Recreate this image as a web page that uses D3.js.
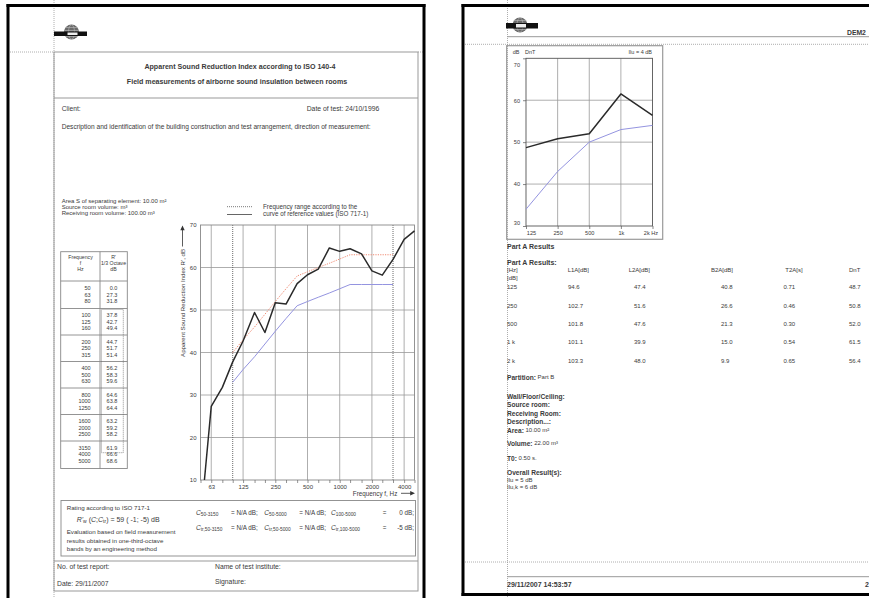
<!DOCTYPE html>
<html><head><meta charset="utf-8">
<script src="https://cdn.jsdelivr.net/npm/d3@7"></script>
<style>
html,body{margin:0;padding:0;background:#fff;}
svg{display:block;}
text{font-family:"Liberation Sans",Arial,sans-serif;fill:#3a3a3a;}
</style>
</head><body>
<svg id="c" width="869" height="598"></svg>
<script>
// ---------- DATA ----------
const thirdOctFreqs = [50,63,80,100,125,160,200,250,315,400,500,630,800,1000,1250,1600,2000,2500,3150,4000,5000];
const rPrime = [0.0,27.3,31.8,37.8,42.7,49.4,44.7,51.7,51.4,56.2,58.3,59.6,64.6,63.8,64.4,63.2,59.2,58.2,61.9,66.6,68.6];
const refFreqs = [100,125,160,200,250,315,400,500,630,800,1000,1250,1600,2000,2500,3150];
const refValues = [33,36,39,42,45,48,51,52,53,54,55,56,56,56,56,56];
const shiftedRef = [40,43,46,49,52,55,58,59,60,61,62,63,63,63,63,63];
const octaveLabelsL = [63,125,250,500,1000,2000,4000];
const yTicksL = [10,20,30,40,50,60,70];
const rangeMarks = [100,3150];

const octFreqs = [125,250,500,1000,2000];
const octLabels = ["125","250","500","1k","2k Hz"];
const dnT = [48.7,50.8,52.0,61.5,56.4];
const octRef = [34,43,50,53,54];
const yTicksR = [30,40,50,60,70];

const resRows = ["125","250","500","1 k","2 k"];
const resHeaders = ["L1A[dB]","L2A[dB]","B2A[dB]","T2A[s]","DnT"];
const L1A = ["94.6","102.7","101.8","101.1","103.3"];
const L2A = ["47.4","51.6","47.6","39.9","48.0"];
const B2A = ["40.8","26.6","21.3","15.0","9.9"];
const T2A = ["0.71","0.46","0.30","0.54","0.65"];
const DnTcol = ["48.7","50.8","52.0","61.5","56.4"];

// ---------- HELPERS ----------
const svg = d3.select("#c");
const FS = 6.5;
function T(g,x,y,s,o={}){
  const t = g.append("text").attr("x",x).attr("y",y)
    .attr("dominant-baseline","central")
    .attr("font-size",o.size||FS).text(s);
  if(o.anchor) t.attr("text-anchor",o.anchor);
  if(o.bold) t.attr("font-weight","bold");
  if(o.italic) t.attr("font-style","italic");
  if(o.fill) t.style("fill",o.fill);
  return t;
}
function L(g,x1,y1,x2,y2,stroke,w,dash){
  const l = g.append("line").attr("x1",x1).attr("y1",y1).attr("x2",x2).attr("y2",y2)
    .attr("stroke",stroke).attr("stroke-width",w||1);
  if(dash) l.attr("stroke-dasharray",dash);
  return l;
}
function logo(g,cx,cy,bx1,bx2,by,bh){
  g.append("circle").attr("cx",cx).attr("cy",cy).attr("r",7.5).attr("fill","#6a6a6a");
  [-4.5,-1.5,1.5,4.5].forEach(d=>L(g,cx-6.5,cy+d,cx+6.5,cy+d,"#bbb",0.6));
  g.append("ellipse").attr("cx",cx).attr("cy",cy).attr("rx",3).attr("ry",7.3).attr("fill","none").attr("stroke","#bbb").attr("stroke-width",0.6);
  g.append("rect").attr("x",bx1).attr("y",by).attr("width",bx2-bx1).attr("height",bh).attr("fill","#111");
  g.append("rect").attr("x",cx-4).attr("y",by+1).attr("width",10).attr("height",bh-2).attr("fill","#eee");
}
function arrowHead(g,x,y,dir){
  const s=2.2;
  const p = dir==="up" ? `M${x},${y} L${x-s},${y+s*2.2} L${x+s},${y+s*2.2}Z`
                       : `M${x},${y} L${x-s*2.2},${y-s} L${x-s*2.2},${y+s}Z`;
  g.append("path").attr("d",p).attr("fill","#333");
}

// ================= LEFT PAGE =================
const P1 = svg.append("g");
L(P1,54,0,54,598,"#999",0.8,"1,1");
L(P1,8,52,54,52,"#999",0.8,"1,1");
L(P1,418,52,424,52,"#999",0.8,"1,1");
L(P1,8,4,8,598,"#000",3);
L(P1,424,4,424,598,"#000",3);
L(P1,6.5,5.5,425.5,5.5,"#000",3);
logo(P1,71.5,32,54,87,31.5,4.5);

P1.append("rect").attr("x",54).attr("y",52).attr("width",364).attr("height",539)
  .attr("fill","none").attr("stroke","#999").attr("stroke-width",1);
L(P1,54,98,418,98,"#999",1);
L(P1,54,561,418,561,"#999",1);

T(P1,240,66.7,"Apparent Sound Reduction Index according to ISO 140-4",{anchor:"middle",bold:true,size:7.1});
T(P1,237,81.7,"Field measurements of airborne sound insulation between rooms",{anchor:"middle",bold:true,size:7.1});
T(P1,61.7,108.3,"Client:",{size:6.7});
T(P1,306.7,108.3,"Date of test: 24/10/1996",{size:6.8});
T(P1,61.7,126,"Description and identification of the building construction and test arrangement, direction of measurement:",{size:6.6});
T(P1,61.7,201,"Area S of separating element: 10.00 m²",{size:6});
T(P1,61.7,207,"Source room volume:  m³",{size:6});
T(P1,61.7,213,"Receiving room volume: 100.00 m³",{size:6});

// legend
L(P1,227,206.7,252,206.7,"#555",0.8,"1,1");
L(P1,227,214.5,252,214.5,"#555",0.9);
T(P1,263,206.5,"Frequency range according to the",{size:6.3});
T(P1,263,213.8,"curve of reference values (ISO 717-1)",{size:6.3});

// ---- table ----
const tb = P1.append("g");
const tX1=60.7, tX2=127.3, tXm=100, tY1=251.7, tHead=281, gTop0=308.5, gH=26.5, tY2=468.5;
tb.append("rect").attr("x",tX1).attr("y",tY1).attr("width",tX2-tX1).attr("height",tY2-tY1)
  .attr("fill","none").attr("stroke","#888").attr("stroke-width",0.9);
L(tb,tXm,tY1,tXm,tY2,"#888",0.9);
L(tb,tX1,tHead,tX2,tHead,"#888",0.9);
for(let i=0;i<6;i++) L(tb,tX1,gTop0+i*gH,tX2,gTop0+i*gH,"#888",0.9);
T(tb,80.5,256.7,"Frequency",{anchor:"middle",size:5.2});
T(tb,80.5,262.5,"f",{anchor:"middle",size:5.2});
T(tb,80.5,268.5,"Hz",{anchor:"middle",size:5.2});
T(tb,113.5,256.7,"R'",{anchor:"middle",size:5.2});
T(tb,113.5,262.5,"1/3 Octave",{anchor:"middle",size:5.2});
T(tb,113.5,268.5,"dB",{anchor:"middle",size:5.2});
thirdOctFreqs.forEach((f,i)=>{
  const grp=Math.floor(i/3), k=i%3;
  const top = grp===0 ? tHead : gTop0+(grp-1)*gH;
  const bot = gTop0+grp*gH;
  const cy = (top+bot)/2 + (k-1)*6.6;
  T(tb,90.7,cy,String(f),{anchor:"end",size:5.5});
  T(tb,117.3,cy,rPrime[i].toFixed(1),{anchor:"end",size:5.5});
});
tb.append("rect").attr("x",101.5).attr("y",gTop0+1).attr("width",21.8).attr("height",452.7-gTop0-1)
  .attr("fill","none").attr("stroke","#666").attr("stroke-width",0.7).attr("stroke-dasharray","1,1");

// ---- left chart ----
const xL = d3.scaleLog().domain([50,5000]).range([200.5,414.5]);
const yL = d3.scaleLinear().domain([10,70]).range([480,225]);
const ch = P1.append("g");
octaveLabelsL.forEach(f=>L(ch,xL(f),yL(10),xL(f),yL(70),"#999",0.8));
yTicksL.slice(1,-1).forEach(v=>L(ch,xL(50),yL(v),xL(5000),yL(v),"#999",0.8));
rangeMarks.forEach(f=>L(ch,xL(f),yL(10),xL(f),yL(70),"#444",0.8,"1,1"));
ch.append("rect").attr("x",xL(50)).attr("y",yL(70)).attr("width",xL(5000)-xL(50)).attr("height",yL(10)-yL(70))
  .attr("fill","none").attr("stroke","#888").attr("stroke-width",0.9);

const xAxL = d3.axisBottom(xL).tickValues(thirdOctFreqs).tickSize(3).tickPadding(2)
  .tickFormat(d=>octaveLabelsL.includes(d)?String(d):"");
const gxL = ch.append("g").attr("transform",`translate(0,${yL(10)})`).call(xAxL);
gxL.select(".domain").remove();
gxL.selectAll("line").attr("stroke","#666").attr("stroke-width",0.7);
gxL.selectAll("text").attr("font-size",6).style("fill","#3a3a3a").attr("font-family",null);

const yAxL = d3.axisLeft(yL).tickValues(yTicksL).tickSize(0).tickPadding(4);
const gyL = ch.append("g").attr("transform",`translate(${xL(50)},0)`).call(yAxL);
gyL.select(".domain").remove();
gyL.selectAll("text").attr("font-size",6).style("fill","#3a3a3a").attr("font-family",null);

svg.append("defs").append("clipPath").attr("id","clipL").append("rect")
  .attr("x",xL(50)).attr("y",yL(70)-2).attr("width",xL(5000)-xL(50)+2).attr("height",yL(10)-yL(70)+2);
const lineL = d3.line().x(d=>xL(d[0])).y(d=>yL(d[1]));
ch.append("path").datum(refFreqs.map((f,i)=>[f,refValues[i]])).attr("d",lineL)
  .attr("fill","none").attr("stroke","#9494e0").attr("stroke-width",1);
ch.append("path").datum(refFreqs.map((f,i)=>[f,shiftedRef[i]])).attr("d",lineL)
  .attr("fill","none").attr("stroke","#f08a72").attr("stroke-width",1).attr("stroke-dasharray","1.2,1.2");
ch.append("path").datum(thirdOctFreqs.map((f,i)=>[f,rPrime[i]])).attr("d",lineL)
  .attr("clip-path","url(#clipL)")
  .attr("fill","none").attr("stroke","#2a2a2a").attr("stroke-width",1.5).attr("stroke-linejoin","round");

ch.append("text").attr("transform","translate(182.5,249) rotate(-90)")
  .attr("text-anchor","end").attr("dominant-baseline","central").attr("font-size",6.1)
  .text("Apparent Sound Reduction Index R', dB");
L(ch,182.5,246.5,182.5,229,"#333",0.8);
arrowHead(ch,182.5,225.5,"up");
T(ch,397.3,493.3,"Frequency f, Hz",{anchor:"end",size:6.3});
L(ch,401,493.3,411,493.3,"#333",0.8);
arrowHead(ch,415,493.3,"right");

// ---- rating box ----
const rb = P1.append("g");
rb.append("rect").attr("x",61).attr("y",500.5).attr("width",354.5).attr("height",55.5)
  .attr("fill","none").attr("stroke","#888").attr("stroke-width",0.9);
T(rb,66.7,507.7,"Rating according to ISO 717-1",{size:6.2});
const rw = T(rb,76.7,519.3,"",{size:7});
rw.append("tspan").attr("font-style","italic").text("R'");
rw.append("tspan").attr("font-size",5).attr("dy",1.6).text("w");
rw.append("tspan").attr("dy",-1.6).text(" (");
rw.append("tspan").attr("font-style","italic").text("C");
rw.append("tspan").text(";");
rw.append("tspan").attr("font-style","italic").text("C");
rw.append("tspan").attr("font-size",5).attr("dy",1.6).text("tr");
rw.append("tspan").attr("dy",-1.6).text(")  =  59 ( -1; -5) dB");
T(rb,66.7,531.7,"Evaluation based on field measurement",{size:6.2});
T(rb,66.7,540,"results obtained in one-third-octave",{size:6.2});
T(rb,66.7,548.5,"bands by an engineering method",{size:6.2});
function cTerm(g,x,y,sub){
  const t=T(g,x,y,"",{size:6.6});
  t.append("tspan").attr("font-style","italic").text("C");
  t.append("tspan").attr("font-size",4.8).attr("dy",1.6).text(sub);
}
[[512.3,["50-3150","50-5000","100-5000"],"0 dB;"],[527.3,["tr,50-3150","tr,50-5000","tr,100-5000"],"-5 dB;"]]
.forEach(([y,subs,last])=>{
  cTerm(rb,196,y,subs[0]); T(rb,231,y,"= N/A dB;",{size:6.3});
  cTerm(rb,264.3,y,subs[1]); T(rb,299.3,y,"= N/A dB;",{size:6.3});
  cTerm(rb,331,y,subs[2]); T(rb,382.7,y,"=",{size:6.3});
  T(rb,414,y,last,{anchor:"end",size:6.3});
});
T(P1,57,566.7,"No. of test report:",{size:6.8});
T(P1,57,583.3,"Date: 29/11/2007",{size:6.8});
T(P1,215,566.5,"Name of test institute:",{size:6.8});
T(P1,215,581.5,"Signature:",{size:6.8});

// ================= RIGHT PAGE =================
const P2 = svg.append("g");
L(P2,507.5,0,507.5,598,"#999",0.8,"1,1");
L(P2,463,44.3,869,44.3,"#999",0.8,"1,1");
L(P2,463,562,869,562,"#999",0.8,"1,1");
L(P2,463,4,463,596,"#000",3);
L(P2,461.5,5.5,869,5.5,"#000",3);
L(P2,461.5,594.5,869,594.5,"#000",3);
logo(P2,520,25,506,538,23,5.5);
L(P2,507,36.7,869,36.7,"#999",1);
T(P2,847,32.5,"DEM2",{bold:true,size:6.8});
L(P2,507,576.7,869,576.7,"#999",1);
T(P2,507,584.3,"29/11/2007 14:53:57",{bold:true,size:7});
T(P2,865,584.3,"2",{bold:true,size:7});

P2.append("rect").attr("x",506.7).attr("y",45.7).attr("width",156).attr("height",193.6)
  .attr("fill","none").attr("stroke","#999").attr("stroke-width",1.2);
const xR = d3.scaleLog().domain([125,2000]).range([526,652.5]);
const yR = d3.scaleLinear().domain([30,70]).range([226,58.3]);
const cr = P2.append("g");
octFreqs.slice(1,-1).forEach(f=>L(cr,xR(f),yR(30),xR(f),yR(70),"#999",0.8));
yTicksR.slice(1,-1).forEach(v=>L(cr,xR(125),yR(v),xR(2000),yR(v),"#999",0.8));
cr.append("rect").attr("x",xR(125)).attr("y",yR(70)).attr("width",xR(2000)-xR(125)).attr("height",yR(30)-yR(70))
  .attr("fill","none").attr("stroke","#555").attr("stroke-width",0.9);
const gxR = cr.append("g").attr("transform",`translate(0,${yR(30)})`)
  .call(d3.axisBottom(xR).tickValues(octFreqs).tickSize(3).tickPadding(2).tickFormat((d,i)=>octLabels[i]));
gxR.select(".domain").remove();
gxR.selectAll("line").attr("stroke","#555").attr("stroke-width",0.7);
gxR.selectAll("text").attr("font-size",5.6).style("fill","#3a3a3a").attr("font-family",null)
  .each(function(d){ if(d===125) d3.select(this).attr("dx",5); if(d===2000) d3.select(this).attr("dx",-2); });
const gyR = cr.append("g").attr("transform",`translate(${xR(125)},0)`)
  .call(d3.axisLeft(yR).tickValues(yTicksR).tickSize(3).tickPadding(3));
gyR.select(".domain").remove();
gyR.selectAll("line").attr("stroke","#555").attr("stroke-width",0.7);
gyR.selectAll("text").attr("font-size",5.6).style("fill","#3a3a3a").attr("font-family",null)
  .each(function(d){ if(d===70) d3.select(this).attr("dy","1.5em"); if(d===30) d3.select(this).attr("dy","-0.25em"); });
const lineR = d3.line().x(d=>xR(d[0])).y(d=>yR(d[1]));
cr.append("path").datum(octFreqs.map((f,i)=>[f,octRef[i]])).attr("d",lineR)
  .attr("fill","none").attr("stroke","#9494e0").attr("stroke-width",1);
cr.append("path").datum(octFreqs.map((f,i)=>[f,dnT[i]])).attr("d",lineR)
  .attr("fill","none").attr("stroke","#2a2a2a").attr("stroke-width",1.5).attr("stroke-linejoin","round");
T(cr,512.7,52.3,"dB",{size:5.5});
T(cr,525,52.3,"DnT",{size:5.5});
T(cr,652,52.3,"Ilu = 4 dB",{anchor:"end",size:5.5});

// results text
T(P2,507,246,"Part A Results",{bold:true,size:7});
T(P2,507,262.7,"Part A Results:",{bold:true,size:7});
T(P2,507,270,"[Hz]",{size:6});
T(P2,507,277.7,"[dB]",{size:6});
const hdrX = [567.7,628.7,711,785.3,849];
const valX = [568,634,721,783.5,849];
resHeaders.forEach((h,i)=>T(P2,hdrX[i],270,h,{size:6}));
const rowY = [287.3,306,324,342,360.7];
const cols = [L1A,L2A,B2A,T2A,DnTcol];
resRows.forEach((r,j)=>{
  T(P2,507,rowY[j],r,{size:6});
  cols.forEach((c,i)=>T(P2,valX[i],rowY[j],c[j],{size:6}));
});
function kv(y,k,v){
  const t=T(P2,507,y,"",{size:6.6});
  t.append("tspan").attr("font-weight","bold").text(k);
  if(v) t.append("tspan").attr("font-size",6).text(" "+v);
}
kv(376.7,"Partition:","Part B");
kv(395.5,"Wall/Floor/Ceiling:");
kv(404,"Source room:");
kv(412.5,"Receiving Room:");
kv(421,"Description...:");
kv(429.5,"Area:","10.00 m²");
kv(443.3,"Volume:","22.00 m³");
kv(457.7,"T0:","0.50 s.");
kv(471.7,"Overall Result(s):");
T(P2,507,479.5,"Ilu = 5 dB",{size:6});
T(P2,507,487,"Ilu,k = 6 dB",{size:6});
</script>
</body></html>
